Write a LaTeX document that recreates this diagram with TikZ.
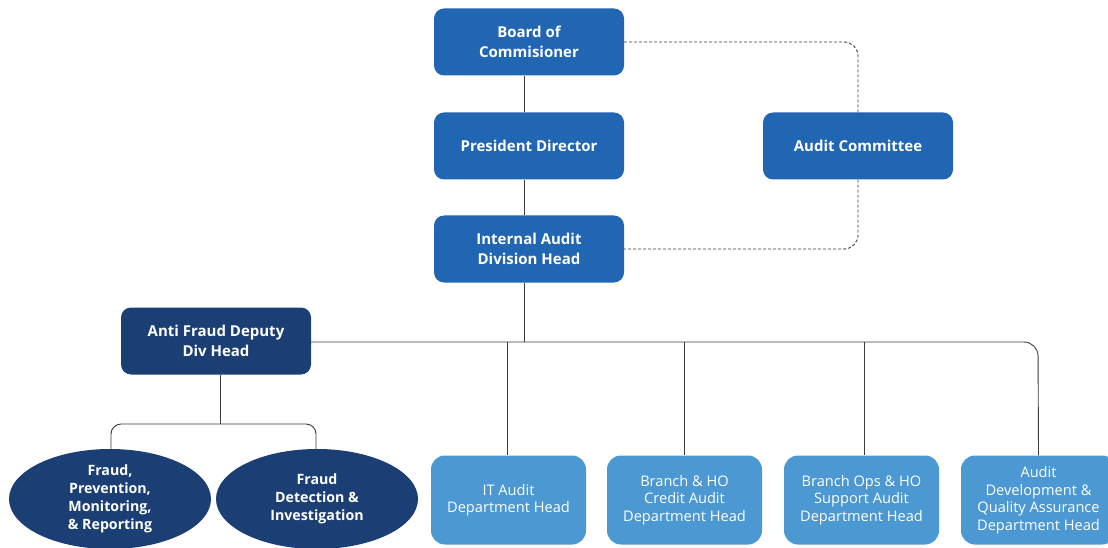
\documentclass[tikz,border=0pt]{standalone}
\usepackage{fontspec}
\setmainfont{Open Sans}
\usetikzlibrary{shapes.geometric}
\definecolor{topblue}{RGB}{33,102,178}
\definecolor{navy}{RGB}{27,63,117}
\definecolor{lightblue}{RGB}{75,152,210}
\definecolor{linegray}{RGB}{60,60,60}
\tikzset{
  topbox/.style={rectangle, rounded corners=10pt, fill=topblue, text=white, minimum width=190pt, minimum height=67pt, align=center, font=\fontsize{15}{20}\selectfont\bfseries, inner sep=0pt},
  navybox/.style={topbox, fill=navy},
  deptbox/.style={rectangle, rounded corners=14pt, fill=lightblue, text=white, minimum width=155pt, minimum height=89pt, align=center, font=\fontsize{14.6}{17.5}\selectfont, inner sep=0pt},
  oval/.style={ellipse, fill=navy, text=white, minimum width=202pt, minimum height=100pt, align=center, font=\fontsize{14.2}{18}\selectfont\bfseries, inner sep=0pt},
  conn/.style={draw=linegray, line width=0.9pt},
  dconn/.style={draw=linegray, line width=0.9pt, dash pattern=on 3pt off 2pt},
}
\begin{document}
\begin{tikzpicture}[x=1pt,y=-1pt]
\useasboundingbox (0,0) rectangle (1108,548);
\node[topbox] (board) at (529,42) {Board of\\Commisioner};
\node[topbox] (pres) at (529,146) {President Director};
\node[topbox] (ac) at (858,146) {Audit Committee};
\node[topbox] (iad) at (529,249) {Internal Audit\\Division Head};
\node[navybox] (af) at (216,341) {Anti Fraud Deputy\\Div Head};
\node[oval] (fp) at (110,499) {Fraud,\\Prevention,\\Monitoring,\\\&~Reporting};
\node[oval] (fd) at (317,499) {Fraud\\Detection \&\\Investigation};
\node[deptbox] (it) at (508.5,500) {IT Audit\\Department Head};
\node[deptbox] (bho) at (684.5,500) {Branch \& HO\\Credit Audit\\Department Head};
\node[deptbox] (bops) at (861.5,500) {Branch Ops \& HO\\Support Audit\\Department Head};
\node[deptbox] (adq) at (1038.5,500) {Audit\\Development \&\\Quality Assurance\\Department Head};
\coordinate (hub) at (524,342);
\coordinate (afhub) at (220,424);
% solid connectors
\draw[conn] (board.south -| hub) -- (pres.north -| hub);
\draw[conn] (pres.south -| hub) -- (iad.north -| hub);
\draw[conn] (iad.south -| hub) -- (hub);
\draw[conn, rounded corners=14pt] (af.east |- hub) -- (1038,342) -- (adq.north);
\draw[conn] (507,342) -- (it.north -| 507,0);
\draw[conn] (684.5,342) -- (bho.north);
\draw[conn] (864,342) -- (bops.north -| 864,0);
\draw[conn] (af.south -| afhub) -- (afhub);
\draw[conn, rounded corners=10pt] (111,449) -- (111,424) -- (316,424) -- (316,449);
% dashed connectors
\draw[dconn, rounded corners=14pt] (board.east) -- (858,42) -- (ac.north);
\draw[dconn, rounded corners=14pt] (ac.south) -- (858,249) -- (iad.east);
\end{tikzpicture}
\end{document}
